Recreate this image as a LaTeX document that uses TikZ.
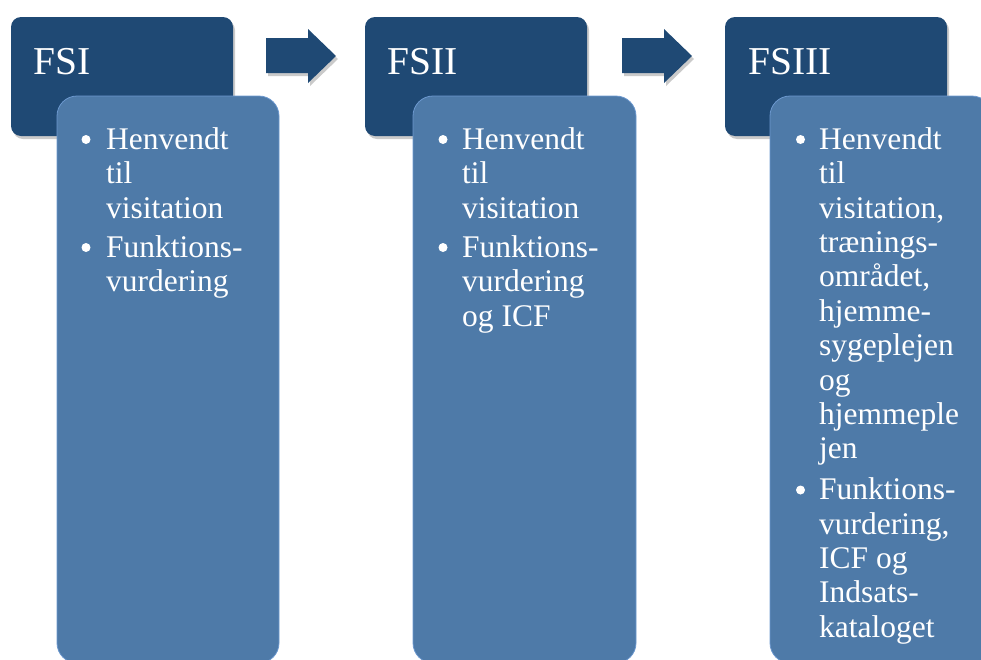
\documentclass[tikz,border=0pt]{standalone}
\usepackage{fontspec}
\setmainfont{Liberation Serif}
\usetikzlibrary{shadows}
\definecolor{headblue}{RGB}{31,73,116}
\definecolor{bodyblue}{RGB}{78,122,168}
\definecolor{edgeblue}{RGB}{108,152,206}
\tikzset{
  headbox/.style={fill=headblue, rounded corners=10pt,
    drop shadow={shadow xshift=2pt, shadow yshift=-3pt, opacity=0.35, fill=black!60}},
  bodybox/.style={fill=bodyblue, draw=edgeblue, line width=0.8pt, rounded corners=20pt},
  flowarrow/.style={fill=headblue,
    drop shadow={shadow xshift=2pt, shadow yshift=-3pt, opacity=0.35, fill=black!60}},
  title/.style={anchor=base west, inner sep=0pt, text=white,
    font=\fontsize{39.5}{44}\selectfont},
  para/.style={anchor=north west, inner sep=0pt, text=white, align=left,
    font=\fontsize{31.5}{34.4}\selectfont},
  dot/.style={circle, fill=white, minimum size=9pt, inner sep=0pt}
}
\begin{document}
\begin{tikzpicture}[x=1pt, y=-1pt]
\useasboundingbox (0,0) rectangle (981,659);
\clip (0,0) rectangle (981,659);

% header boxes
\path[headbox] (11,17) rectangle (233,136);
\path[headbox] (365,17) rectangle (587,136);
\path[headbox] (725,17) rectangle (947,136);

% block arrows between the stages
\path[flowarrow] (266,38) -- (308,38) -- (308,29) -- (336,56) -- (308,83) -- (308,73) -- (266,73) -- cycle;
\path[flowarrow] (622,38) -- (664,38) -- (664,29) -- (692,56) -- (664,83) -- (664,73) -- (622,73) -- cycle;

% body boxes
\path[bodybox] (57,96) rectangle (279,663);
\path[bodybox] (413,96) rectangle (636,663);
\path[bodybox] (770,96) rectangle (992,663);

% titles
\node[title] (t1) at (33,74) {FSI};
\node[title] (t2) at (387,74) {FSII};
\node[title] (t3) at (748,74) {FSIII};

% stage I
\node[dot] (b1a) at (86,139.5) {};
\node[para] (p1a) at (106,125) {\strut Henvendt\\til\\visitation};
\node[dot] (b1b) at (86,247.5) {};
\node[para] (p1b) at (106,233) {\strut Funktions-\\vurdering};

% stage II
\node[dot] (b2a) at (443,139.5) {};
\node[para] (p2a) at (462,125) {\strut Henvendt\\til\\visitation};
\node[dot] (b2b) at (443,247.5) {};
\node[para] (p2b) at (462,233) {\strut Funktions-\\vurdering\\og ICF};

% stage III
\node[dot] (b3a) at (800.5,139.5) {};
\node[para] (p3a) at (819,125) {\strut Henvendt\\til\\visitation,\\trænings-\\området,\\hjemme-\\sygeplejen\\og\\hjemmeple\\jen};
\node[dot] (b3b) at (800.5,490) {};
\node[para] (p3b) at (819,475.5) {\strut Funktions-\\vurdering,\\ICF og\\Indsats-\\kataloget};
\end{tikzpicture}
\end{document}
